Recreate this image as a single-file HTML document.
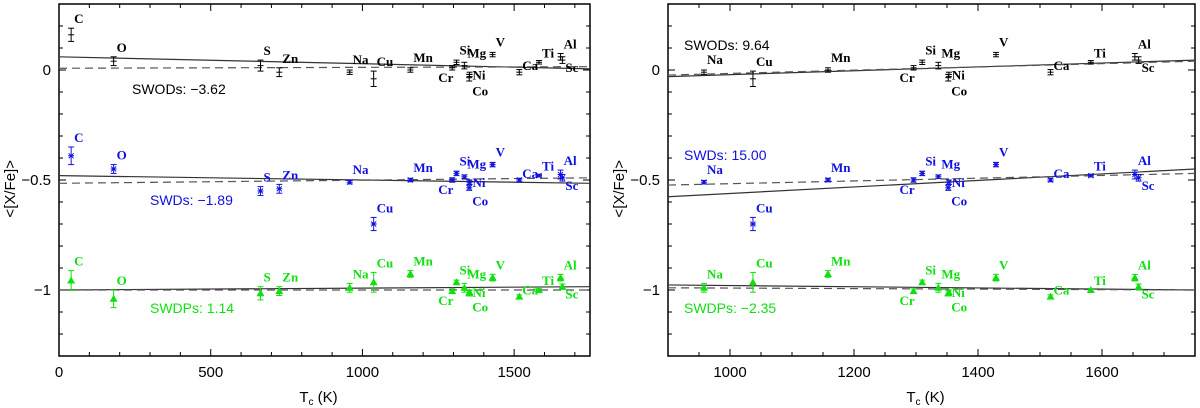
<!DOCTYPE html>
<html><head><meta charset="utf-8"><style>
html,body{margin:0;padding:0;background:#fff;}
svg{display:block;}
.tick{font-family:"Liberation Sans",sans-serif;font-size:15px;fill:#000;}
.el{font-family:"Liberation Serif",serif;font-weight:bold;font-size:13px;}
.stat{font-family:"Liberation Sans",sans-serif;font-size:14px;}
</style></head><body>
<svg id="chart" width="1200" height="408" viewBox="0 0 1200 408" xmlns="http://www.w3.org/2000/svg"></svg>
<script>
// ---- data ----
const elementsL = ["C","O","S","Zn","Na","Cu","Mn","Cr","Si","Mg","Ni","Co","V","Ca","Ti","Al","Sc"];
const tcL = [40,180,664,726,958,1037,1158,1296,1310,1336,1353,1352,1429,1517,1582,1653,1659];
const swodVals = [0.16,0.04,0.02,-0.01,-0.01,-0.04,0.0,0.01,0.035,0.02,-0.02,-0.035,0.07,-0.01,0.035,0.06,0.045];
const swodErrs = [0.03,0.02,0.025,0.02,0.01,0.035,0.01,0.01,0.01,0.015,0.01,0.015,0.01,0.012,0.008,0.015,0.015];
const swdVals = [-0.39,-0.45,-0.55,-0.54,-0.51,-0.70,-0.50,-0.50,-0.47,-0.485,-0.51,-0.535,-0.43,-0.50,-0.48,-0.475,-0.49];
const swdErrs = [0.04,0.02,0.02,0.02,0.008,0.03,0.008,0.01,0.01,0.008,0.01,0.012,0.01,0.008,0.006,0.02,0.015];
const swdpVals = [-0.957,-1.04,-1.015,-1.005,-0.99,-0.965,-0.927,-1.005,-0.965,-0.99,-1.01,-1.015,-0.944,-1.03,-1.0,-0.944,-0.985];
const swdpErrs = [0.045,0.04,0.03,0.02,0.02,0.045,0.015,0.01,0.01,0.02,0.01,0.012,0.015,0.008,0.006,0.015,0.012];
const fitsL = { swodSolid:[0.06,0.005], swodDash:[0.008,0.015], swdSolid:[-0.48,-0.515], swdDash:[-0.515,-0.49], swdpSolid:[-1.0,-0.985], swdpDash:[-1.0,-1.0] };
const fitsR = { swodSolid:[-0.03,0.045], swodDash:[-0.023,0.04], swdSolid:[-0.576,-0.45], swdDash:[-0.523,-0.47], swdpSolid:[-0.977,-1.0], swdpDash:[-0.99,-1.0] };
const statsL = ["SWODs: \u22123.62","SWDs: \u22121.89","SWDPs: 1.14"];
const statsR = ["SWODs: 9.64","SWDs: 15.00","SWDPs: \u22122.35"];
const xTicksL = [0,500,1000,1500];
const xTicksR = [1000,1200,1400,1600];
const yTicks = [0,-0.5,-1];
const yTickLabels = ["0","\u22120.5","\u22121"];

const NS="http://www.w3.org/2000/svg";
const svg=document.getElementById('chart');
function mk(tag,attrs,parent){const e=document.createElementNS(NS,tag);for(const k in attrs)e.setAttribute(k,attrs[k]);(parent||svg).appendChild(e);return e;}
const Y0=70, YS=220;
function yv(v){return Y0-YS*v;}
const labelOff={Cr:[-14,14],Co:[3,18],Sc:[3,12],Ni:[3,5],Ca:[3,-2],Ti:[3,-5]};

function panel(name,x0,x1,tmin,tmax,xt,minorStep,fits,stats,statPos,restrictFrom){
  const g=mk('g',{});
  
  
  const xs=t=>x0+(t-tmin)*(x1-x0)/(tmax-tmin);
  const top=yv(0.3), bot=yv(-1.3);
  const fr=mk('rect',{x:x0,y:top,width:x1-x0,height:bot-top,fill:'none',stroke:'#000','stroke-width':1.5},g);
  
  
  for(let t=Math.ceil(tmin/minorStep)*minorStep;t<=tmax;t+=minorStep){
    const major=xt.includes(t); const L=major?7:4; const x=xs(t);
    mk('line',{x1:x,x2:x,y1:bot,y2:bot-L,stroke:'#000'},g);
    mk('line',{x1:x,x2:x,y1:top,y2:top+L,stroke:'#000'},g);
  }
  xt.forEach(t=>{const tx=mk('text',{x:xs(t),y:bot+21,'text-anchor':'middle',class:'tick'},g);tx.textContent=t;
    
    });
  for(let i=-13;i<=3;i++){const v=i/10;const y=yv(v);const major=(i%5===0);const L=major?7:4;
    mk('line',{x1:x0,x2:x0+L,y1:y,y2:y,stroke:'#000'},g);
    mk('line',{x1:x1,x2:x1-L,y1:y,y2:y,stroke:'#000'},g);}
  yTicks.forEach((v,i)=>{const tx=mk('text',{x:x0-8,y:yv(v)+5,'text-anchor':'end',class:'tick'},g);tx.textContent=yTickLabels[i];
    
    });
  const yl=mk('text',{x:0,y:0,transform:`translate(${x0-44},${yv(-0.54)}) rotate(-90)`,'text-anchor':'middle',class:'tick'},g);
  yl.textContent='<[X/Fe]>';
  
  
  const xl=mk('text',{x:(x0+x1)/2-6,y:402,'text-anchor':'middle',class:'tick'},g);
  xl.innerHTML='T<tspan font-size="10" dy="3">c</tspan><tspan dy="-3"> (K)</tspan>';
  
  
  const pairs=[['swodSolid','#333',''],['swodDash','#555','8,5'],['swdSolid','#333',''],['swdDash','#555','8,5'],['swdpSolid','#333',''],['swdpDash','#555','8,5']];
  pairs.forEach(([k,c,d])=>{const l=mk('line',{x1:x0,x2:x1,y1:yv(fits[k][0]),y2:yv(fits[k][1]),stroke:c,'stroke-width':1.2,'stroke-dasharray':d},g);
    
    });
  const series=[[swodVals,swodErrs,'#000','plus'],[swdVals,swdErrs,'#1010e0','star'],[swdpVals,swdpErrs,'#10e010','tri']];
  series.forEach(([vals,errs,col,mark])=>{
    elementsL.forEach((el,i)=>{
      const t=tcL[i]; if(t<restrictFrom) return;
      const x=xs(t), y=yv(vals[i]), e=errs[i]*YS;
      const pg=mk('g',{stroke:col,fill:col},g);
      
      
      mk('line',{x1:x,x2:x,y1:y-e,y2:y+e,'stroke-width':1},pg);
      mk('line',{x1:x-3,x2:x+3,y1:y-e,y2:y-e,'stroke-width':1},pg);
      mk('line',{x1:x-3,x2:x+3,y1:y+e,y2:y+e,'stroke-width':1},pg);
      if(mark==='plus'){mk('line',{x1:x-3,x2:x+3,y1:y,y2:y,'stroke-width':1},pg);}
      else if(mark==='star'){mk('path',{d:`M${x-2.5} ${y-2.5}L${x+2.5} ${y+2.5}M${x-2.5} ${y+2.5}L${x+2.5} ${y-2.5}M${x-3} ${y}L${x+3} ${y}`,'stroke-width':1},pg);}
      else {mk('path',{d:`M${x} ${y-4}L${x+4} ${y+3}L${x-4} ${y+3}Z`,stroke:'none'},pg);}
      const off=labelOff[el]||[3,-Math.max(e,3)-5];
      const tx=mk('text',{x:x+off[0],y:y+off[1],fill:col,class:'el'},g);
      tx.textContent=el;
      
      
    });
  });
  const sc=['#000','#1010e0','#10e010'];
  stats.forEach((s,i)=>{const tx=mk('text',{x:statPos[i][0],y:statPos[i][1],fill:sc[i],class:'stat'},g);tx.textContent=s;
    
    });
}
panel('left-panel',59,590,0,1750,xTicksL,100,fitsL,statsL,[[132,94],[150,205],[150,313]],-1);
panel('right-panel',668,1195,900,1750,xTicksR,50,fitsR,statsR,[[684,50],[684,160],[684,313]],900);
</script>
</body></html>
